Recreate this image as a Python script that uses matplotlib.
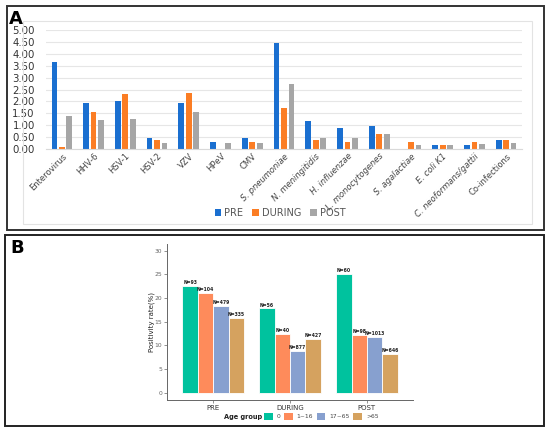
import numpy as np
import matplotlib
matplotlib.use("Agg")
import matplotlib.pyplot as plt
from matplotlib.patches import Rectangle, Patch

# ---------------- Panel A data ----------------
pathogens = ["Enterovirus", "HHV-6", "HSV-1", "HSV-2", "VZV", "HPeV", "CMV",
             "S. pneumoniae", "N. meningitidis", "H. influenzae", "L. monocytogenes",
             "S. agalactiae", "E. coli K1", "C. neoformans/gattii", "Co-infections"]
italic_names = {"S. pneumoniae", "N. meningitidis", "H. influenzae", "L. monocytogenes",
                "S. agalactiae", "E. coli K1", "C. neoformans/gattii"}
pre = [3.67, 1.92, 2.03, 0.48, 1.92, 0.28, 0.48, 4.44, 1.16, 0.87, 0.97, 0.0, 0.18, 0.18, 0.38]
during = [0.08, 1.57, 2.30, 0.38, 2.37, 0.0, 0.31, 1.74, 0.38, 0.31, 0.63, 0.31, 0.15, 0.31, 0.38]
post = [1.37, 1.20, 1.26, 0.25, 1.57, 0.25, 0.25, 2.73, 0.48, 0.48, 0.63, 0.15, 0.15, 0.21, 0.25]
a_ticks = [0.0, 0.5, 1.0, 1.5, 2.0, 2.5, 3.0, 3.5, 4.0, 4.5, 5.0]

# ---------------- Panel B data ----------------
periods = ["PRE", "DURING", "POST"]
age_groups = ["0", "1~16", "17~65", ">65"]
rates = [[22.6, 17.8, 25.0],    # 0
         [21.1, 12.5, 12.2],    # 1~16
         [18.4, 8.9, 11.8],     # 17~65
         [15.7, 11.4, 8.3]]     # >65
counts = [["N=93", "N=56", "N=60"],
          ["N=104", "N=40", "N=98"],
          ["N=479", "N=877", "N=1013"],
          ["N=335", "N=427", "N=646"]]
b_ticks = [0, 5, 10, 15, 20, 25, 30]

W, H = 550, 432
fig = plt.figure(figsize=(5.5, 4.32), dpi=100)

def fx(px):
    return px / W

def fy(py):
    return 1 - py / H

# panel frames
fig.patches.append(Rectangle((fx(7), fy(230)), fx(537), 224 / H, transform=fig.transFigure,
                             fill=False, edgecolor="#333333", linewidth=1.4))
fig.patches.append(Rectangle((fx(5), fy(426)), fx(538.5), 191.5 / H, transform=fig.transFigure,
                             fill=False, edgecolor="#222222", linewidth=1.4))
fig.patches.append(Rectangle((fx(23), fy(224)), fx(509), 203 / H, transform=fig.transFigure,
                             fill=False, edgecolor="#e3e3e3", linewidth=0.8))

# ---------------- Panel A ----------------
axA = fig.add_axes([fx(46), fy(149), fx(476), 119 / H])
x = np.arange(len(pathogens))
w = 0.18
colA = ["#1a6fd0", "#fb7d24", "#a6a6a6"]
axA.bar(x - 0.235, pre, w, color=colA[0], label="PRE")
axA.bar(x, during, w, color=colA[1], label="DURING")
axA.bar(x + 0.235, post, w, color=colA[2], label="POST")
axA.set_xlim(-0.5, len(pathogens) - 0.5)
axA.set_ylim(0, 5)
axA.set_yticks(a_ticks)
axA.set_yticklabels([f"{t:.2f}" for t in a_ticks], fontsize=7.3, color="#333333")
axA.yaxis.grid(True, color="#e6e6e6", linewidth=0.8)
axA.set_axisbelow(True)
for s in ["top", "right", "left"]:
    axA.spines[s].set_visible(False)
axA.spines["bottom"].set_color("#d9d9d9")
axA.tick_params(axis="y", length=0, pad=8)
axA.tick_params(axis="x", length=0, pad=2)
axA.set_xticks(x)
axA.set_xticklabels(pathogens, rotation=45, ha="right", rotation_mode="anchor",
                    fontsize=6, color="#444444")
for lab in axA.get_xticklabels():
    if lab.get_text() in italic_names:
        lab.set_fontstyle("italic")
axA.legend(loc="center", bbox_to_anchor=(fx(280), fy(213)), bbox_transform=fig.transFigure,
           ncol=3, frameon=False, fontsize=7, labelcolor="#555555",
           handlelength=0.7, handleheight=0.7, handletextpad=0.3, columnspacing=0.9)
fig.text(fx(9), fy(19), "A", fontsize=13, fontweight="bold", va="center")

# ---------------- Panel B ----------------
axB = fig.add_axes([fx(167), fy(400), fx(246), 156.5 / H])
colB = ["#00c29e", "#fe8b5b", "#87a0cf", "#d5a25f"]
xb = np.arange(1, len(periods) + 1)
bw = 0.2
for i, grp in enumerate(age_groups):
    xs = xb + (i - 1.5) * bw
    axB.bar(xs, rates[i], bw, color=colB[i], edgecolor="white", linewidth=0.6)
    for xv, yv, txt in zip(xs, rates[i], counts[i]):
        axB.text(xv, yv + 0.2, txt, ha="center", va="bottom", fontsize=3.3,
                 fontweight="bold", color="#222222")
axB.set_xlim(0.4, 3.6)
axB.set_ylim(-1.5, 31.5)
axB.set_yticks(b_ticks)
axB.set_yticklabels([str(t) for t in b_ticks], fontsize=4.3, color="#666666")
axB.set_xticks(xb)
axB.set_xticklabels(periods, fontsize=5, color="#333333")
for s in ["top", "right"]:
    axB.spines[s].set_visible(False)
for s in ["left", "bottom"]:
    axB.spines[s].set_color("#666666")
    axB.spines[s].set_linewidth(0.7)
axB.tick_params(length=2, width=0.5, color="#666666", pad=1.5)
fig.text(fx(152), fy(322), "Positivity rate(%)", rotation=90, fontsize=5,
         ha="center", va="center", color="#222222")

fig.text(fx(224), fy(416.5), "Age group", fontsize=4.8, fontweight="bold",
         ha="left", va="center", color="#222222")
handles = [Patch(facecolor=c, edgecolor="none") for c in colB]
fig.legend(handles, age_groups, loc="center left", bbox_to_anchor=(fx(259), fy(416.5)),
           ncol=4, frameon=False, fontsize=4.3, labelcolor="#444444",
           handlelength=1.4, handleheight=1.4, handletextpad=0.7, columnspacing=0.6)
fig.text(fx(10), fy(248), "B", fontsize=13, fontweight="bold", va="center")

fig.savefig("out.png", dpi=100)
